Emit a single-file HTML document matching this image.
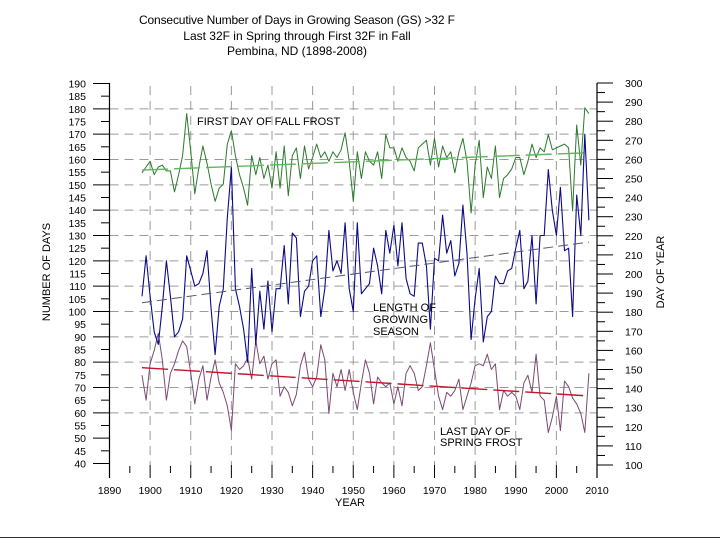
<!DOCTYPE html>
<html><head><meta charset="utf-8"><style>
html,body{margin:0;padding:0;background:#fff;width:720px;height:540px;overflow:hidden}
svg text{font-family:"Liberation Sans",Arial,sans-serif}
</style></head><body>
<svg id="chart" width="720" height="540" viewBox="0 0 720 540" xmlns="http://www.w3.org/2000/svg">
<g font-size="12" text-anchor="middle" fill="#000">
<text x="297" y="24" textLength="316">Consecutive Number of Days in Growing Season (GS) &gt;32 F</text>
<text x="297" y="40">Last 32F in Spring through First 32F in Fall</text>
<text x="297" y="55">Pembina, ND (1898-2008)</text>
</g>
<g id="grid"></g>
<g id="axes"></g>
<g id="series"></g>
<g font-size="11" fill="#000">
<text x="197" y="125">FIRST DAY OF FALL FROST</text>
<text x="373" y="311">LENGTH OF</text>
<text x="373" y="323">GROWING</text>
<text x="373" y="335">SEASON</text>
<text x="440" y="435">LAST DAY OF</text>
<text x="440" y="446">SPRING FROST</text>
</g>
<text x="50" y="272" font-size="11" text-anchor="middle" transform="rotate(-90 50 272)">NUMBER OF DAYS</text>
<text x="664" y="272" font-size="11" text-anchor="middle" transform="rotate(-90 664 272)">DAY OF YEAR</text>
<text x="350" y="506" font-size="11" text-anchor="middle">YEAR</text>
<line x1="0" y1="537.5" x2="720" y2="537.5" stroke="#333" stroke-width="1"/>
</svg>
<script>
const startYear = 1898;
const fallFrost = [253,256,259,252,256,257,254,254,243,252,262,284,264,242,256,267,258,247,238,245,247,268,275,262,252,245,236,262,252,261,250,257,245,264,245,267,241,262,
266,250,267,255,261,268,261,264,259,264,261,265,274,259,238,264,250,264,259,257,264,250,273,266,266,259,266,261,259,254,266,268,270,257,271,256,267,261,
264,253,264,271,259,232,257,270,240,256,250,267,240,250,252,255,261,261,252,259,268,261,266,264,273,265,266,267,268,266,233,278,257,287,284];
const springFrost = [147,134,153,160,169,155,134,148,153,160,165,162,148,132,145,152,134,146,155,143,138,131,118,153,150,152,156,145,165,153,157,145,153,155,136,141,138,131,137,
152,159,145,141,146,163,155,127,148,141,150,139,150,138,129,143,155,148,132,146,143,141,143,132,141,131,148,152,148,139,141,152,164,150,136,129,138,
136,139,145,129,136,143,152,153,152,158,150,153,129,139,136,138,136,129,143,147,138,158,136,134,117,125,136,118,144,141,135,132,127,117,148];
const xTicks = [1890,1900,1910,1920,1930,1940,1950,1960,1970,1980,1990,2000,2010];
const leftTicks = [190,185,180,175,170,165,160,155,150,145,140,135,130,125,120,115,110,105,100,95,90,85,80,75,70,65,60,55,50,45,40];
const rightTicks = [300,290,280,270,260,250,240,230,220,210,200,190,180,170,160,150,140,130,120,110,100];

const NS='http://www.w3.org/2000/svg';
const X0=109.5, X1=597;
function xS(yr){return X0+(yr-1890)*(X1-X0)/120;}
function yL(v){return 83.5+(190-v)*(463.5-83.5)/150;}
function yR(v){return 83+(300-v)*(465-83)/200;}
function mk(tag,attrs,parent){const e=document.createElementNS(NS,tag);for(const k in attrs)e.setAttribute(k,attrs[k]);parent.appendChild(e);return e;}
const grid=document.getElementById('grid'),axes=document.getElementById('axes'),ser=document.getElementById('series');

for(let v=180;v>=60;v-=10){
  const l=mk('line',{x1:X0,x2:X1,y1:yL(v),y2:yL(v),stroke:'#9a9a9a','stroke-width':1,'stroke-dasharray':'9,6'},grid);
  
  
}
xTicks.forEach(t=>{ if(t>1890&&t<2010){
  const l=mk('line',{x1:xS(t),x2:xS(t),y1:86,y2:465,stroke:'#9a9a9a','stroke-width':1,'stroke-dasharray':'9,6'},grid);
  
  
}});

const la=mk('line',{x1:X0,x2:X0,y1:83,y2:478,stroke:'#000','stroke-width':1.2},axes);


const ra=mk('line',{x1:X1,x2:X1,y1:83,y2:478,stroke:'#000','stroke-width':1.2},axes);



leftTicks.forEach(v=>{
  const major=v%10===0;
  const t=mk('line',{x1:major?93:101,x2:X0,y1:yL(v),y2:yL(v),stroke:'#000','stroke-width':1},axes);
  
  
  const tx=mk('text',{x:86,y:yL(v)+4,'font-size':10.5,'text-anchor':'end'},axes);
  tx.textContent=v;
  
  
});
rightTicks.forEach(v=>{
  const t=mk('line',{x1:X1,x2:X1+16,y1:yR(v),y2:yR(v),stroke:'#000','stroke-width':1},axes);
  
  
  if(v>100){const m=mk('line',{x1:X1,x2:X1+8,y1:yR(v-5),y2:yR(v-5),stroke:'#000','stroke-width':1},axes);
  
  }
  const tx=mk('text',{x:625,y:yR(v)+4,'font-size':10.5},axes);
  tx.textContent=v;
  
  
});
xTicks.forEach(t=>{
  const l=mk('line',{x1:xS(t),x2:xS(t),y1:465,y2:478,stroke:'#000','stroke-width':1},axes);
  
  
  if(t<2010){const m=mk('line',{x1:xS(t+5),x2:xS(t+5),y1:466,y2:473,stroke:'#000','stroke-width':1},axes);
  
  }
  const tx=mk('text',{x:xS(t),y:494,'font-size':10.5,'text-anchor':'middle'},axes);
  tx.textContent=t;
  
  
});

const years=fallFrost.map((_,i)=>startYear+i);
const lengthDays=fallFrost.map((f,i)=>f-springFrost[i]);
function line(vals,ys,color,w,name){
  const d=vals.map((v,i)=>(i?'L':'M')+xS(years[i]).toFixed(1)+','+ys(v).toFixed(1)).join('');
  const p=mk('path',{d:d,fill:'none',stroke:color,'stroke-width':w,'stroke-linejoin':'round'},ser);
  
  
}
function trend(vals,ys,color,w,dash,name){
  const n=vals.length;let sx=0,sy=0,sxx=0,sxy=0;
  vals.forEach((v,i)=>{const x=years[i];sx+=x;sy+=v;sxx+=x*x;sxy+=x*v;});
  const b=(n*sxy-sx*sy)/(n*sxx-sx*sx),a=(sy-b*sx)/n;
  const x0=years[0],x1=years[n-1];
  const l=mk('line',{x1:xS(x0),y1:ys(a+b*x0),x2:xS(x1),y2:ys(a+b*x1),stroke:color,'stroke-width':w,'stroke-dasharray':dash},ser);
  
  
}
line(fallFrost,yR,'#2b7a2b',1,'fall-frost-line');
line(springFrost,yR,'#7a4a72',1,'spring-frost-line');
line(lengthDays,yL,'#0a0a8a',1.1,'growing-season-length-line');
trend(fallFrost,yR,'#5cb85c',1.4,'26,6','fall-frost-trend');
trend(springFrost,yR,'#c0182a',1.4,'26,6','spring-frost-trend');
trend(lengthDays,yL,'#555570',1,'10,5','length-trend');
</script>
</body></html>
